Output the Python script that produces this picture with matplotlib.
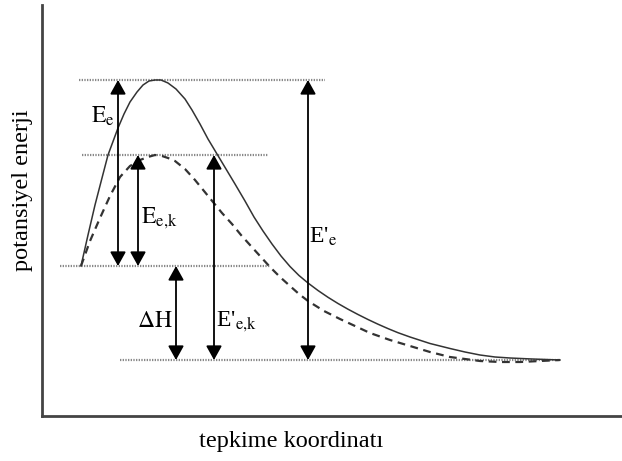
import matplotlib.pyplot as plt

plt.rcParams['font.family'] = ['Liberation Serif', 'DejaVu Serif']
plt.rcParams['mathtext.fontset'] = 'stix'

# reaction coordinate / potential energy (arbitrary units)
solid_x = [39, 46, 53, 60, 66, 76, 82, 88, 95, 101, 107, 113, 119, 126, 134, 143, 150,
           158, 166, 175, 184, 193, 203, 212, 221, 230, 239, 248, 257, 266, 276, 286, 296,
           306, 316, 326, 336, 346, 356, 368, 388, 408, 423, 438, 453, 468, 490, 518]
solid_y = [150, 181, 211, 238, 261, 288, 302, 314, 324, 331, 335, 336, 336, 333, 327, 317, 306,
           292, 277, 262, 247, 232, 215, 199, 185, 172, 160, 149.5, 140.5, 133, 125.5, 118.7, 112.5,
           106.8, 101.5, 96.5, 91.8, 87.4, 83.3, 79, 72.5, 67.5, 64, 61, 59, 58, 57, 56]

dash_x = [39, 48, 58, 68, 78, 88, 98, 106, 113, 120, 126, 133, 143, 153, 162, 171, 180,
          190, 199, 208, 218, 228, 238, 248, 257, 266, 282, 298, 313, 328, 348, 368, 388,
          408, 423, 438, 458, 478, 498, 518]
dash_y = [150, 175, 198, 220, 239, 250, 256, 259, 261, 260, 258, 255, 247, 236, 225, 214, 203,
          192, 181, 171, 160, 149, 139, 130, 122, 115, 105, 97, 90, 83, 76, 70, 64,
          59, 57, 55, 54, 54, 55, 56]

# dotted reference levels: (level, x start, x end)
levels = [(336, 37, 283), (261, 40, 226), (150, 18, 228), (56, 78, 518)]

# double arrows: (x, bottom, top)
arrows = [(76, 150, 336), (96, 150, 261), (134, 56, 150), (172, 56, 261), (266, 56, 336)]

# labels: (x, baseline y, text)
labels = [(49, 293, r'$\mathrm{E_e}$'),
          (99, 193, r'$\mathrm{E_{e{,}k}}$'),
          (95, 89, r'$\Delta\mathrm{H}$'),
          (174, 90, r"E'$_{\mathrm{e{,}k}}$"),
          (267, 173, r"E'$_{\mathrm{e}}$")]

fig = plt.figure(figsize=(6.22, 4.61), dpi=100)
ax = fig.add_axes([42 / 622, 45 / 461, 580 / 622, 411 / 461])
ax.set_xlim(0, 580)
ax.set_ylim(0, 411)

for lv, x0, x1 in levels:
    ax.plot([x0, x1], [lv, lv], color='#888888', lw=1.6, linestyle=(0, (0.6, 0.6)))

ax.plot(solid_x, solid_y, color='#333333', lw=1.1)
ax.plot(dash_x, dash_y, color='#333333', lw=1.6, linestyle=(0, (3.5, 2.5)))

for x, y0, y1 in arrows:
    ax.annotate('', xy=(x, y1), xytext=(x, y0),
                arrowprops=dict(arrowstyle='<|-|>,head_length=0.45,head_width=0.25',
                                color='black', lw=1.3,
                                mutation_scale=19, shrinkA=0, shrinkB=0))

for x, y, s in labels:
    ax.text(x, y, s, fontsize=17, va='baseline', ha='left')

for side in ['top', 'right']:
    ax.spines[side].set_visible(False)
for side in ['left', 'bottom']:
    ax.spines[side].set_linewidth(2)
    ax.spines[side].set_color('#444444')
ax.set_xticks([])
ax.set_yticks([])

ax.text(249, -25, 'tepkime koordinatı', fontsize=17.5, ha='center', va='center')
ax.text(-19, 226, 'potansiyel enerji', fontsize=17.5, ha='center', va='center', rotation=90)

fig.savefig('out.png', dpi=100)
